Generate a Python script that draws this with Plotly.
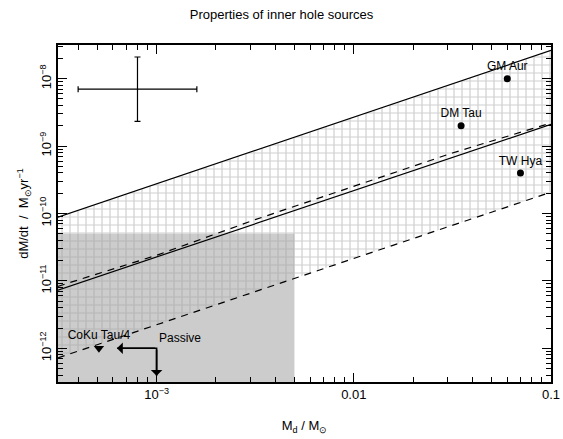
import numpy as np
import plotly.graph_objects as go

# ---------------- data ----------------
src_names = ["GM Aur", "DM Tau", "TW Hya"]
src_md = [0.060, 0.035, 0.070]
src_mdot = [1.0e-8, 2.0e-9, 4.0e-10]

coku_name = ["CoKu Tau/4"]
coku_md = [5.1e-4]
coku_mdot = [1.0e-12]

upper_solid_x = [3.16e-4, 0.1]
upper_solid_y = [8.8e-11, 2.63e-8]
lower_solid_x = [3.16e-4, 0.1]
lower_solid_y = [7.3e-12, 2.1e-9]
upper_dash_x = [3.16e-4, 1.0e-3, 3.16e-3, 1.0e-2, 3.16e-2, 0.1]
upper_dash_y = [8.3e-12, 2.4e-11, 8.1e-11, 2.5e-10, 7.9e-10, 2.2e-9]
lower_dash_x = [3.16e-4, 0.1]
lower_dash_y = [7.2e-13, 2.07e-10]

# passive disc region
rect_x = [3.0e-4, 5.0e-3]
rect_y = [3.0e-13, 5.0e-11]

# typical error cross
err_x = [8.0e-4]
err_y = [7.0e-9]
err_x_minus = [4.0e-4]
err_x_plus = [8.0e-4]
err_y_minus = [4.67e-9]
err_y_plus = [1.4e-8]

# passive arrows
passive_corner = (1.0e-3, 1.0e-12)
passive_left_tip = (6.3e-4, 1.0e-12)
passive_down_tip = (1.0e-3, 3.9e-13)

x_ticks = [1e-3, 1e-2, 1e-1]
x_ticktext = ["10<sup>−3</sup>", "0.01", "0.1"]
y_ticks = [1e-12, 1e-11, 1e-10, 1e-9, 1e-8]
y_ticktext = ["10<sup>−12</sup>", "10<sup>−11</sup>", "10<sup>−10</sup>",
              "10<sup>−9</sup>", "10<sup>−8</sup>"]

FONT = "Liberation Sans, Arial, sans-serif"

fig = go.Figure()

# grey rectangle
fig.add_trace(go.Scatter(
    x=[rect_x[0], rect_x[1], rect_x[1], rect_x[0], rect_x[0]],
    y=[rect_y[0], rect_y[0], rect_y[1], rect_y[1], rect_y[0]],
    mode="lines", fill="toself", fillcolor="#cccccc",
    line=dict(width=0), hoverinfo="skip", showlegend=False))

# hatched band
fig.add_trace(go.Scatter(
    x=upper_solid_x + lower_dash_x[::-1] + [upper_solid_x[0]],
    y=upper_solid_y + lower_dash_y[::-1] + [upper_solid_y[0]],
    mode="lines", fill="toself", fillcolor="rgba(0,0,0,0)",
    fillpattern=dict(shape="+", fgcolor="#a0a0a0", bgcolor="rgba(0,0,0,0)",
                     size=8, solidity=0.28),
    line=dict(width=0), hoverinfo="skip", showlegend=False))

# lines
fig.add_trace(go.Scatter(x=upper_solid_x, y=upper_solid_y, mode="lines",
                         line=dict(color="black", width=1.2), showlegend=False))
fig.add_trace(go.Scatter(x=lower_solid_x, y=lower_solid_y, mode="lines",
                         line=dict(color="black", width=1.2), showlegend=False))
fig.add_trace(go.Scatter(x=upper_dash_x, y=upper_dash_y, mode="lines",
                         line=dict(color="black", width=1.2, dash="7px,6px"),
                         showlegend=False))
fig.add_trace(go.Scatter(x=lower_dash_x, y=lower_dash_y, mode="lines",
                         line=dict(color="black", width=1.2, dash="7px,6px"),
                         showlegend=False))

# error cross
fig.add_trace(go.Scatter(
    x=err_x, y=err_y, mode="markers",
    marker=dict(size=1, color="black"),
    error_x=dict(type="data", array=err_x_plus, arrayminus=err_x_minus,
                 color="black", thickness=1.2, width=3),
    error_y=dict(type="data", array=err_y_plus, arrayminus=err_y_minus,
                 color="black", thickness=1.2, width=3),
    showlegend=False))

# sources
fig.add_trace(go.Scatter(
    x=src_md, y=src_mdot, mode="markers+text", text=src_names,
    textposition="top center", textfont=dict(family=FONT, size=12, color="black"),
    marker=dict(symbol="circle", size=7, color="black"), showlegend=False))
fig.add_trace(go.Scatter(
    x=coku_md, y=coku_mdot, mode="markers+text", text=coku_name,
    textposition="top center", textfont=dict(family=FONT, size=12, color="black"),
    marker=dict(symbol="triangle-down", size=9, color="black"), showlegend=False))

# passive L-shape
fig.add_trace(go.Scatter(
    x=[passive_left_tip[0], passive_corner[0], passive_down_tip[0]],
    y=[passive_left_tip[1], passive_corner[1], passive_down_tip[1]],
    mode="lines", line=dict(color="black", width=1.6), showlegend=False))

annotations = []
for tip in (passive_left_tip, passive_down_tip):
    annotations.append(dict(
        x=np.log10(tip[0]), y=np.log10(tip[1]),
        ax=np.log10(passive_corner[0]), ay=np.log10(passive_corner[1]),
        xref="x", yref="y", axref="x", ayref="y",
        showarrow=True, arrowhead=1, arrowsize=1.2, arrowwidth=1.6,
        arrowcolor="black", text=""))
annotations.append(dict(
    x=np.log10(passive_corner[0]), y=np.log10(passive_corner[1]) + 0.16,
    xref="x", yref="y", text="Passive", showarrow=False, xanchor="left",
    font=dict(family=FONT, size=12, color="black")))

axis_common = dict(
    type="log", showgrid=False, zeroline=False, showline=True,
    linecolor="black", linewidth=1.5, mirror="ticks", automargin=False,
    ticks="inside", ticklen=9, tickwidth=1.2, tickcolor="black",
    tickfont=dict(family=FONT, size=13, color="black"),
    minor=dict(ticks="inside", ticklen=5, tickwidth=1, tickcolor="black",
               dtick="D1", showgrid=False),
)

fig.update_layout(
    width=563, height=439,
    margin=dict(l=58, r=12, t=45, b=57),
    paper_bgcolor="white", plot_bgcolor="white",
    font=dict(family=FONT, size=13, color="black"),
    title=dict(text="Properties of inner hole sources", x=0.5, xref="container",
               y=1 - 14 / 439, yref="container", yanchor="middle",
               font=dict(family=FONT, size=13, color="black")),
    xaxis=dict(axis_common, range=[-3.5, -1], tickmode="array",
               tickvals=x_ticks, ticktext=x_ticktext,
               title=dict(text="M<sub>d</sub> / M<sub>⊙</sub>", standoff=20,
                          font=dict(family=FONT, size=13))),
    yaxis=dict(axis_common, range=[-12.5, -7.5], tickmode="array",
               tickvals=y_ticks, ticktext=y_ticktext, tickangle=-90,
               title=dict(text="dM/dt  /  M<sub>⊙</sub>yr<sup>−1</sup>", standoff=6,
                          font=dict(family=FONT, size=13))),
    annotations=annotations,
)

fig.write_html("out.html")
